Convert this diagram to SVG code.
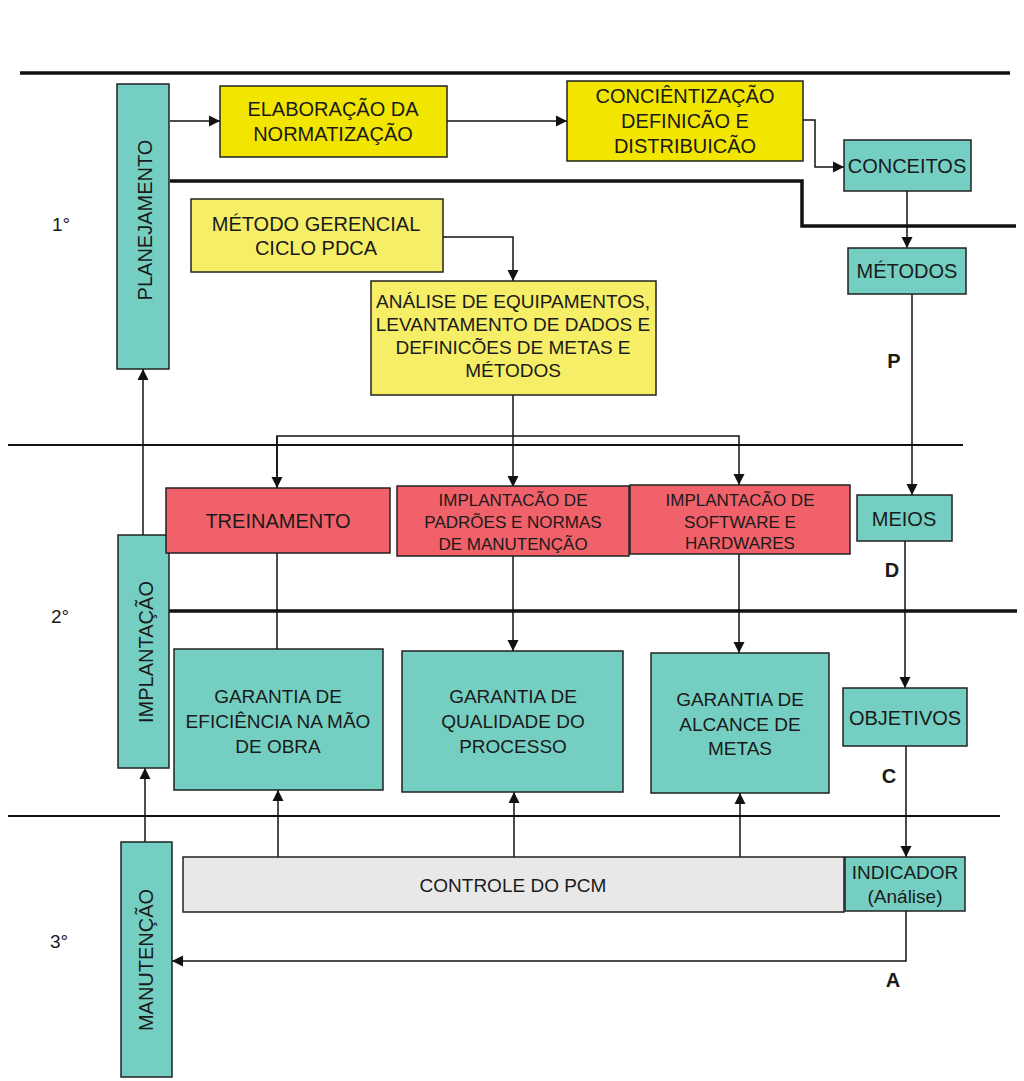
<svg xmlns="http://www.w3.org/2000/svg" width="1024" height="1081" viewBox="0 0 1024 1081">
<style>
text{font-family:"Liberation Sans",Arial,sans-serif;fill:#1a1a1a;text-anchor:middle}
.t20{font-size:20px}
.t19{font-size:19px}
.t17{font-size:17px}
.b{font-weight:bold;font-size:20px}
.teal{fill:#74CFC2;stroke:#222;stroke-width:1.5}
.yel{fill:#F2E600;stroke:#222;stroke-width:1.5}
.pale{fill:#F6EE66;stroke:#222;stroke-width:1.5}
.red{fill:#F0616A;stroke:#222;stroke-width:1.5}
.gray{fill:#E8E8E8;stroke:#222;stroke-width:1.5}
.ln{fill:none;stroke:#111;stroke-width:1.5}
.sep{fill:none;stroke:#111;stroke-width:2}
.thick{fill:none;stroke:#111;stroke-width:3.5}
</style>
<defs>
<marker id="ar" markerUnits="userSpaceOnUse" markerWidth="12" markerHeight="12" refX="11" refY="6" orient="auto">
<path d="M0,0.5 L11,6 L0,11.5 Z" fill="#111"/>
</marker>
</defs>
<rect width="1024" height="1081" fill="#fff"/>

<g id="separators">
<path class="thick" d="M20,73 H1010"/>
<path class="thick" d="M170,181 H802 V226 H1016"/>
<path class="sep" d="M8,445 H963"/>
<path class="thick" d="M168,611 H1017"/>
<path class="sep" d="M8,816 H1000"/>
</g>

<g id="levels">
<text class="t19" x="61" y="231">1°</text>
<text class="t19" x="60" y="623">2°</text>
<text class="t19" x="59" y="948">3°</text>
<text class="b" x="894" y="368">P</text>
<text class="b" x="892" y="577">D</text>
<text class="b" x="889" y="783">C</text>
<text class="b" x="893" y="987">A</text>
</g>

<g id="connectors">
<path class="ln" d="M170,121 H220" marker-end="url(#ar)"/>
<path class="ln" d="M447,121 H567" marker-end="url(#ar)"/>
<path class="ln" d="M803,120 H815 V167 H844" marker-end="url(#ar)"/>
<path class="ln" d="M907,191 V248" marker-end="url(#ar)"/>
<path class="ln" d="M912,294 V495" marker-end="url(#ar)"/>
<path class="ln" d="M905,541 V688" marker-end="url(#ar)"/>
<path class="ln" d="M906,746 V857" marker-end="url(#ar)"/>
<path class="ln" d="M906,911 V961 H172" marker-end="url(#ar)"/>
<path class="ln" d="M443,237 H513 V281" marker-end="url(#ar)"/>
<path class="ln" d="M513,395 V487" marker-end="url(#ar)"/>
<path class="ln" d="M277,488 V436 H739 V485" marker-end="url(#ar)"/>
<path class="ln" d="M277,436 V488" marker-end="url(#ar)"/>
<path class="ln" d="M277,553 V649"/>
<path class="ln" d="M513,556 V651" marker-end="url(#ar)"/>
<path class="ln" d="M739,554 V653" marker-end="url(#ar)"/>
<path class="ln" d="M278,857 V790" marker-end="url(#ar)"/>
<path class="ln" d="M514,857 V792" marker-end="url(#ar)"/>
<path class="ln" d="M740,857 V793" marker-end="url(#ar)"/>
<path class="ln" d="M143,535 V369" marker-end="url(#ar)"/>
<path class="ln" d="M145,842 V768" marker-end="url(#ar)"/>
</g>

<g id="planejamento">
<rect class="teal" x="117" y="84" width="52" height="285"/>
<text class="t20" transform="translate(152,220) rotate(-90)">PLANEJAMENTO</text>
</g>
<g id="implantacao">
<rect class="teal" x="118" y="535" width="51" height="233"/>
<text class="t20" transform="translate(153,652) rotate(-90)">IMPLANTAÇÃO</text>
</g>
<g id="manutencao">
<rect class="teal" x="121" y="842" width="51" height="235"/>
<text class="t20" transform="translate(153,960) rotate(-90)">MANUTENÇÃO</text>
</g>

<g id="elaboracao">
<rect class="yel" x="220" y="86" width="227" height="71"/>
<text class="t20" x="333" y="116">ELABORAÇÃO DA</text>
<text class="t20" x="333" y="141">NORMATIZAÇÃO</text>
</g>
<g id="concientizacao">
<rect class="yel" x="567" y="81" width="236" height="80"/>
<text class="t20" x="685" y="103">CONCIÊNTIZAÇÃO</text>
<text class="t20" x="685" y="128">DEFINICÃO E</text>
<text class="t20" x="685" y="153">DISTRIBUICÃO</text>
</g>
<g id="conceitos">
<rect class="teal" x="844" y="140" width="127" height="51"/>
<text class="t20" x="907" y="173">CONCEITOS</text>
</g>
<g id="metodos">
<rect class="teal" x="848" y="248" width="118" height="46"/>
<text class="t20" x="907" y="278">MÉTODOS</text>
</g>
<g id="metodo-gerencial">
<rect class="pale" x="191" y="199" width="252" height="73"/>
<text class="t20" x="316" y="231">MÉTODO GERENCIAL</text>
<text class="t20" x="316" y="255">CICLO PDCA</text>
</g>
<g id="analise">
<rect class="pale" x="371" y="281" width="285" height="114"/>
<text class="t19" x="513" y="308">ANÁLISE DE EQUIPAMENTOS,</text>
<text class="t19" x="513" y="331">LEVANTAMENTO DE DADOS E</text>
<text class="t19" x="513" y="354">DEFINICÕES DE METAS E</text>
<text class="t19" x="513" y="377">MÉTODOS</text>
</g>
<g id="treinamento">
<rect class="red" x="166" y="488" width="224" height="65"/>
<text class="t20" x="278" y="528">TREINAMENTO</text>
</g>
<g id="padroes">
<rect class="red" x="397" y="486" width="232" height="70"/>
<text class="t17" x="513" y="506">IMPLANTACÃO DE</text>
<text class="t17" x="513" y="528">PADRÕES E NORMAS</text>
<text class="t17" x="513" y="550">DE MANUTENÇÃO</text>
</g>
<g id="software">
<rect class="red" x="630" y="485" width="220" height="69"/>
<text class="t17" x="740" y="506">IMPLANTACÃO DE</text>
<text class="t17" x="740" y="528">SOFTWARE E</text>
<text class="t17" x="740" y="549">HARDWARES</text>
</g>
<g id="meios">
<rect class="teal" x="857" y="495" width="95" height="46"/>
<text class="t20" x="904" y="526">MEIOS</text>
</g>
<g id="garantia-eficiencia">
<rect class="teal" x="174" y="649" width="209" height="141"/>
<text class="t19" x="278" y="703">GARANTIA DE</text>
<text class="t19" x="278" y="728">EFICIÊNCIA NA MÃO</text>
<text class="t19" x="278" y="753">DE OBRA</text>
</g>
<g id="garantia-qualidade">
<rect class="teal" x="402" y="651" width="221" height="141"/>
<text class="t19" x="513" y="703">GARANTIA DE</text>
<text class="t19" x="513" y="728">QUALIDADE DO</text>
<text class="t19" x="513" y="753">PROCESSO</text>
</g>
<g id="garantia-alcance">
<rect class="teal" x="651" y="653" width="178" height="140"/>
<text class="t19" x="740" y="706">GARANTIA DE</text>
<text class="t19" x="740" y="731">ALCANCE DE</text>
<text class="t19" x="740" y="755">METAS</text>
</g>
<g id="objetivos">
<rect class="teal" x="843" y="688" width="124" height="58"/>
<text class="t20" x="905" y="725">OBJETIVOS</text>
</g>
<g id="controle">
<rect class="gray" x="183" y="857" width="661" height="55"/>
<text class="t19" x="513" y="892">CONTROLE DO PCM</text>
</g>
<g id="indicador">
<rect class="teal" x="845" y="857" width="120" height="54"/>
<text class="t19" x="905" y="879">INDICADOR</text>
<text class="t19" x="905" y="903">(Análise)</text>
</g>
</svg>
